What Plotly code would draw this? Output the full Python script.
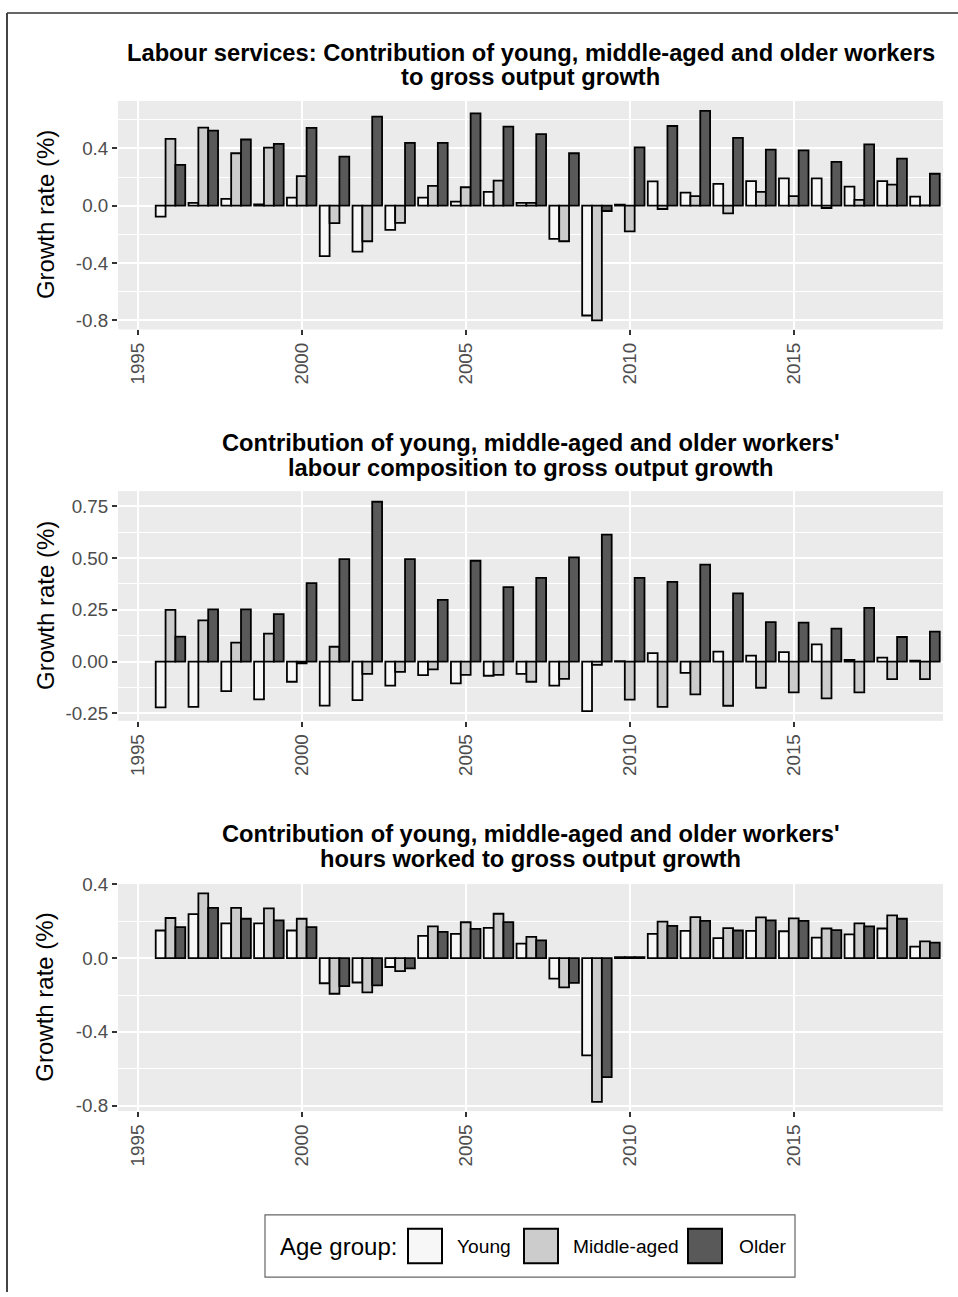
import plotly.graph_objects as go

W, H = 958, 1297

years = list(range(1996, 2020))
groups = ["Young", "Middle-aged", "Older"]
fills = ["#f7f7f7", "#cccccc", "#595959"]

# Panel 1: labour services
young1 = [-0.076, 0.020, 0.048, 0.010, 0.057, -0.352, -0.320, -0.168, 0.057, 0.028, 0.097, 0.020,
          -0.232, -0.766, 0.007, 0.170, 0.092, 0.152, 0.172, 0.191, 0.191, 0.133, 0.172, 0.064]
middle1 = [0.467, 0.545, 0.366, 0.405, 0.207, -0.122, -0.248, -0.120, 0.138, 0.129, 0.175, 0.020,
           -0.248, -0.800, -0.179, -0.023, 0.067, -0.053, 0.097, 0.067, -0.016, 0.041, 0.147, 0.003]
older1 = [0.285, 0.524, 0.462, 0.432, 0.543, 0.343, 0.621, 0.439, 0.439, 0.644, 0.552, 0.499,
          0.366, -0.037, 0.407, 0.556, 0.662, 0.474, 0.391, 0.386, 0.306, 0.428, 0.329, 0.223]

# Panel 2: labour composition
young2 = [-0.221, -0.218, -0.142, -0.182, -0.097, -0.212, -0.186, -0.116, -0.065, -0.105, -0.068, -0.059,
          -0.116, -0.239, 0.003, 0.041, -0.054, 0.048, 0.029, 0.046, 0.083, 0.008, 0.019, 0.005]
middle2 = [0.250, 0.199, 0.092, 0.135, -0.008, 0.072, -0.059, -0.049, -0.037, -0.064, -0.064, -0.097,
           -0.083, -0.016, -0.183, -0.218, -0.158, -0.213, -0.126, -0.148, -0.177, -0.148, -0.084, -0.084]
older2 = [0.121, 0.252, 0.252, 0.229, 0.379, 0.495, 0.772, 0.495, 0.298, 0.487, 0.360, 0.404,
          0.503, 0.613, 0.404, 0.385, 0.468, 0.330, 0.191, 0.188, 0.159, 0.260, 0.119, 0.145]

# Panel 3: hours worked
young3 = [0.150, 0.239, 0.189, 0.189, 0.150, -0.136, -0.132, -0.048, 0.121, 0.132, 0.164, 0.079,
          -0.111, -0.527, 0.005, 0.132, 0.148, 0.109, 0.148, 0.146, 0.111, 0.129, 0.161, 0.063]
middle3 = [0.218, 0.352, 0.273, 0.270, 0.214, -0.193, -0.186, -0.070, 0.173, 0.195, 0.241, 0.116,
           -0.159, -0.780, 0.005, 0.198, 0.223, 0.163, 0.221, 0.216, 0.161, 0.189, 0.232, 0.091]
older3 = [0.168, 0.273, 0.214, 0.205, 0.168, -0.152, -0.148, -0.055, 0.143, 0.159, 0.196, 0.096,
          -0.134, -0.646, 0.005, 0.175, 0.202, 0.150, 0.205, 0.202, 0.152, 0.173, 0.214, 0.084]

titles = [
    ["Labour services: Contribution of young, middle-aged and older workers", "to gross output growth"],
    ["Contribution of young, middle-aged and older workers'", "labour composition to gross output growth"],
    ["Contribution of young, middle-aged and older workers'", "hours worked to gross output growth"],
]

x_tickvals = [1995, 2000, 2005, 2010, 2015]
x_ticktext = ["1995", "2000", "2005", "2010", "2015"]

y_tickvals = [[0.4, 0.0, -0.4, -0.8], [0.75, 0.5, 0.25, 0.0, -0.25], [0.4, 0.0, -0.4, -0.8]]
y_ticktext = [["0.4", "0.0", "-0.4", "-0.8"], ["0.75", "0.50", "0.25", "0.00", "-0.25"],
              ["0.4", "0.0", "-0.4", "-0.8"]]
y_minor = [0.2, 0.125, 0.2]
y_ranges = [[-0.862, 0.731], [-0.285, 0.822], [-0.830, 0.401]]

panels = [[young1, middle1, older1], [young2, middle2, older2], [young3, middle3, older3]]

# layout geometry (pixels)
PLOT_L, PLOT_R = 118, 943
panel_tb = [(92, 323), (487, 719), (884.5, 1114)]
title_y = [(43, 68), (438, 463), (834, 859)]

FONT = "Liberation Sans, Arial, Helvetica, sans-serif"
TICK_SIZE = 18.8


def px(x):
    return x / W


def py(y):
    return 1 - y / H


fig = go.Figure()
for i, series in enumerate(panels):
    ax = "" if i == 0 else str(i + 1)
    for g, vals, col in zip(groups, series, fills):
        fig.add_trace(go.Bar(
            x=years, y=vals, name=g, marker=dict(color=col, line=dict(color="black", width=1.8)),
            xaxis="x" + ax, yaxis="y" + ax, showlegend=False, offsetgroup=g,
        ))
    top, bot = panel_tb[i]
    fig.layout["xaxis" + ax] = dict(
        domain=[px(PLOT_L), px(PLOT_R)], anchor="y" + ax, range=[1994.4, 2019.55],
        tickvals=x_tickvals, ticktext=x_ticktext, tickangle=-90,
        ticks="outside", ticklen=5, tickwidth=1.5, tickcolor="#333333",
        tickfont=dict(family=FONT, size=TICK_SIZE, color="#4d4d4d"),
        showgrid=True, gridcolor="white", gridwidth=2, zeroline=False, showline=False,
    )
    fig.layout["yaxis" + ax] = dict(
        domain=[py(bot), py(top)], anchor="x" + ax, range=y_ranges[i],
        tickvals=y_tickvals[i], ticktext=y_ticktext[i],
        ticks="outside", ticklen=5, tickwidth=1.5, tickcolor="#333333",
        tickfont=dict(family=FONT, size=TICK_SIZE, color="#4d4d4d"),
        showgrid=True, gridcolor="white", gridwidth=2, zeroline=False, showline=False,
        minor=dict(dtick=y_minor[i], tick0=0, showgrid=True, gridcolor="white", gridwidth=1, ticks=""),
    )
    for line, yy in zip(titles[i], title_y[i]):
        fig.add_annotation(x=px((PLOT_L + PLOT_R) / 2), y=py(yy), xref="paper", yref="paper",
                           text="<b>" + line + "</b>", showarrow=False, xanchor="center", yanchor="middle",
                           font=dict(family=FONT, size=23.7, color="black"))
    fig.add_annotation(x=px(45), y=py((top + bot) / 2), xref="paper", yref="paper",
                       text="Growth rate (%)", textangle=-90, showarrow=False,
                       xanchor="center", yanchor="middle", font=dict(family=FONT, size=24, color="black"))

shapes = []
# panel backgrounds
for top, bot in panel_tb:
    shapes.append(dict(type="rect", xref="paper", yref="paper", x0=px(PLOT_L), x1=px(PLOT_R),
                       y0=py(bot), y1=py(top), fillcolor="#ebebeb", line=dict(width=0), layer="below"))
# outer border (top and left visible)
shapes.append(dict(type="line", xref="paper", yref="paper", x0=px(7), x1=px(958), y0=py(3), y1=py(3),
                   line=dict(color="#666666", width=2)))
shapes.append(dict(type="line", xref="paper", yref="paper", x0=px(7), x1=px(7), y0=py(3), y1=py(1297),
                   line=dict(color="#444444", width=2)))
# legend box
shapes.append(dict(type="rect", xref="paper", yref="paper", x0=px(265), x1=px(795), y0=py(1282), y1=py(1219),
                   fillcolor="white", line=dict(color="#666666", width=1.2)))
key_x = [408, 524, 688]
label_x = [455, 571, 737]
for kx, lx, g, col in zip(key_x, label_x, groups, fills):
    shapes.append(dict(type="rect", xref="paper", yref="paper", x0=px(kx), x1=px(kx + 34),
                       y0=py(1268), y1=py(1233), fillcolor=col, line=dict(color="black", width=2)))
    fig.add_annotation(x=px(lx), y=py(1251), xref="paper", yref="paper", text=g, showarrow=False,
                       xanchor="left", yanchor="middle", font=dict(family=FONT, size=19.2, color="black"))
fig.add_annotation(x=px(278), y=py(1251), xref="paper", yref="paper", text="Age group:", showarrow=False,
                   xanchor="left", yanchor="middle", font=dict(family=FONT, size=24, color="black"))

fig.update_layout(
    width=W, height=H, margin=dict(l=0, r=0, t=0, b=0),
    paper_bgcolor="white", plot_bgcolor="#ebebeb",
    barmode="group", bargap=0.1, bargroupgap=0,
    shapes=shapes, showlegend=False,
    font=dict(family=FONT),
)

fig.write_html("out.html", config={"displayModeBar": False},
               post_script="document.body.style.margin='0';document.body.style.overflow='hidden';")
